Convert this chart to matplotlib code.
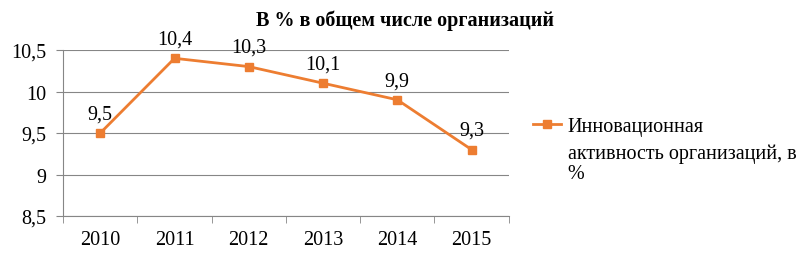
import matplotlib.pyplot as plt
from matplotlib.ticker import FixedLocator

plt.rcParams['font.family'] = ['Liberation Serif', 'DejaVu Serif']

years = ['2010', '2011', '2012', '2013', '2014', '2015']
values = [9.5, 10.4, 10.3, 10.1, 9.9, 9.3]
yticks = [8.5, 9, 9.5, 10, 10.5]
ytick_labels = ['8,5', '9', '9,5', '10', '10,5']
series_name = ['Инновационная', 'активность организаций, в', '%']

fs = 14.5
fig = plt.figure(figsize=(8.1, 2.55), dpi=100)
ax = fig.add_axes([0.078, 0.149, 0.55, 0.651])

x = list(range(len(years)))
line, = ax.plot(x, values, color='#ED7D31', linewidth=2, marker='s', markersize=6)
for xi, v in zip(x, values):
    ax.annotate(f'{v:.1f}'.replace('.', ','), (xi, v), xytext=(0, 7),
                textcoords='offset points', ha='center', va='bottom', fontsize=fs)

ax.set_xlim(-0.5, len(years) - 0.5)
ax.set_ylim(8.5, 10.5)
ax.set_yticks(yticks)
ax.set_yticklabels(ytick_labels, fontsize=fs)
ax.set_xticks(x)
ax.set_xticklabels(years, fontsize=fs)
ax.tick_params(axis='x', length=0, pad=10)
ax.xaxis.set_minor_locator(FixedLocator([i - 0.5 for i in range(len(years) + 1)]))
ax.tick_params(axis='x', which='minor', length=5, color='#868686')
ax.tick_params(axis='y', length=5, color='#868686', pad=7)
ax.grid(axis='y', color='#868686', linewidth=0.8)
ax.set_axisbelow(True)
for s in ['top', 'right']:
    ax.spines[s].set_visible(False)
for s in ['left', 'bottom']:
    ax.spines[s].set_color('#868686')

fig.suptitle('В % в общем числе организаций', fontsize=fs, fontweight='bold', y=0.96)

# легенда: маркер на уровне первой строки
fig.legend([line], [series_name[0]], loc='center left', bbox_to_anchor=(0.658, 0.50),
           frameon=False, fontsize=fs, handlelength=1.4, handletextpad=0.3,
           borderpad=0, borderaxespad=0)
fig.text(0.701, 0.435, '\n'.join(series_name[1:]), ha='left', va='top', fontsize=fs,
         linespacing=1.1)

fig.savefig('out.png', dpi=100)
